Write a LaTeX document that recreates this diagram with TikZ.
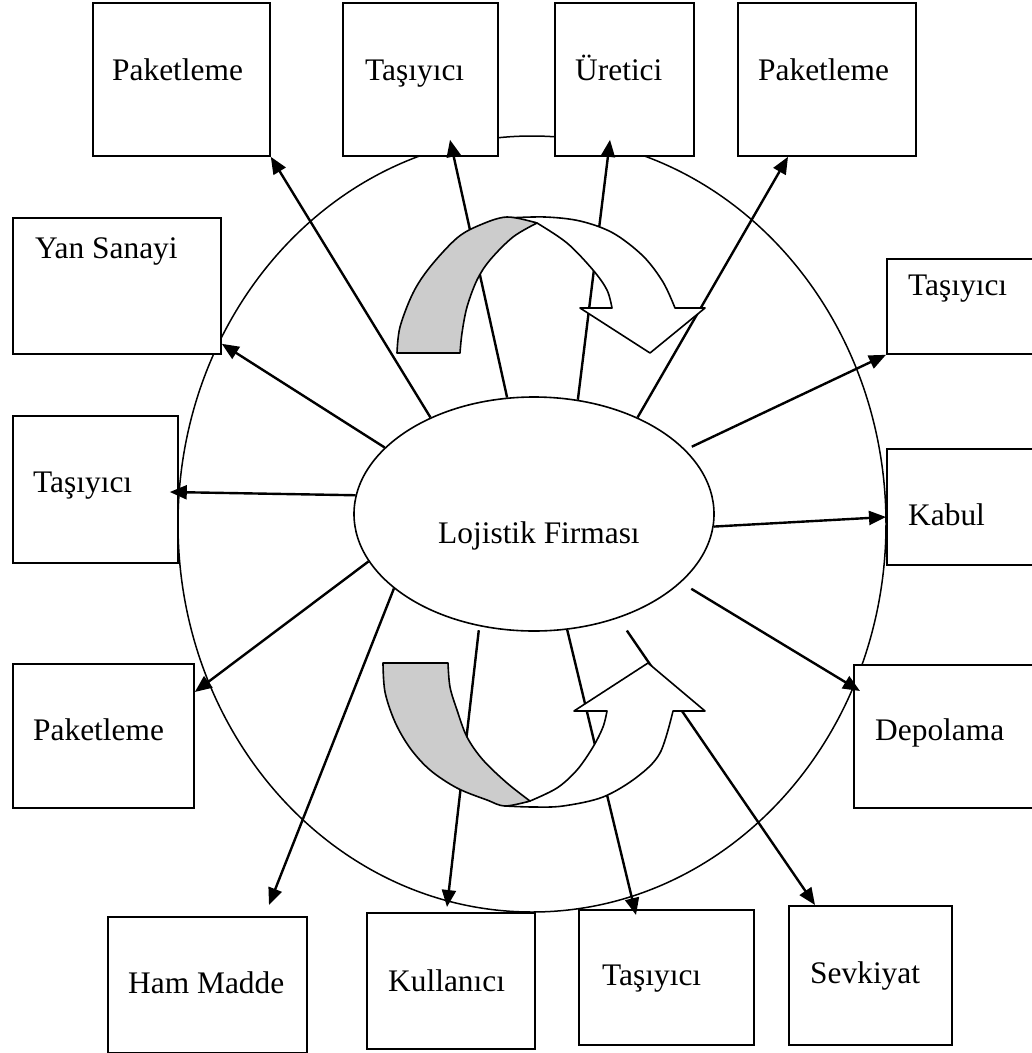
\documentclass[tikz,border=0pt]{standalone}
\usepackage{fontspec}
\setmainfont{Liberation Serif}
\usetikzlibrary{shapes.geometric, arrows.meta, calc}

\begin{document}
\begin{tikzpicture}[x=1pt, y=-1pt,
  box/.style={draw, line width=1.8pt, fill=white, inner sep=0pt, anchor=north west},
  lbl/.style={font=\fontsize{31.4}{36}\selectfont, inner sep=0pt, anchor=base west},
  link/.style={line width=2.4pt, -{Triangle[length=17pt,width=14pt]}},
  ribbon/.style={line width=1.6pt, line join=round},
  back/.style={ribbon, fill=gray!40},
  front/.style={ribbon, fill=white},
]
\useasboundingbox (0,0) rectangle (1032,1053);
\clip (0,0) rectangle (1032,1053);

% outer ring
\node[draw, ellipse, line width=1.5pt, minimum width=708pt, minimum height=776pt, inner sep=0pt] (ring) at (532,524) {};

% boxes
\node[box, minimum width=177pt, minimum height=153pt] (pk1) at (92,2) {};
\node[box, minimum width=155pt, minimum height=153pt] (ta1) at (342,2) {};
\node[box, minimum width=139pt, minimum height=153pt] (ur)  at (554,2) {};
\node[box, minimum width=178pt, minimum height=153pt] (pk2) at (737,2) {};
\node[box, minimum width=208pt, minimum height=136pt] (ys)  at (12,217) {};
\node[box, minimum width=160pt, minimum height=95pt]  (tr)  at (886,258) {};
\node[box, minimum width=165pt, minimum height=147pt] (tl)  at (12,415) {};
\node[box, minimum width=160pt, minimum height=116pt] (kb)  at (886,448) {};
\node[box, minimum width=181pt, minimum height=144pt] (pl)  at (12,663) {};
\node[box, minimum width=190pt, minimum height=143pt] (dp)  at (853,664) {};
\node[box, minimum width=199pt, minimum height=136pt] (hm)  at (107,916) {};
\node[box, minimum width=168pt, minimum height=136pt] (ku)  at (366,912) {};
\node[box, minimum width=175pt, minimum height=135pt] (tb)  at (578,909) {};
\node[box, minimum width=163pt, minimum height=139pt] (sv)  at (788,905) {};

% box texts
\node[lbl] (tpk1) at (112,80) {Paketleme};
\node[lbl] (tta1) at (365,80) {Taşıyıcı};
\node[lbl] (tur)  at (575,80) {Üretici};
\node[lbl] (tpk2) at (758,80) {Paketleme};
\node[lbl] (tys)  at (35,258) {Yan Sanayi};
\node[lbl] (ttr)  at (908,295) {Taşıyıcı};
\node[lbl] (ttl)  at (33,492) {Taşıyıcı};
\node[lbl] (tkb)  at (908,525) {Kabul};
\node[lbl] (tpl)  at (33,740) {Paketleme};
\node[lbl] (tdp)  at (875,740) {Depolama};
\node[lbl] (thm)  at (128,993) {Ham Madde};
\node[lbl] (tku)  at (388,991) {Kullanıcı};
\node[lbl] (ttb)  at (602,985) {Taşıyıcı};
\node[lbl] (tsv)  at (810,983) {Sevkiyat};

% central firm
\node[draw, ellipse, line width=1.6pt, fill=white, minimum width=360pt, minimum height=234pt, inner sep=0pt] (hub) at (534,514) {};
\node[lbl] (thub) at (438,543) {Lojistik Firması};

% spokes
\draw[link] (hub.137) -- (pk1.south east);
\draw[link] (hub.103) -- ($(ta1.south west)+(108,-17)$);
\draw[link] (hub.69)  -- ($(ur.south west)+(56,-17)$);
\draw[link] (hub.43)  -- ($(pk2.south west)+(51,0)$);
\draw[link] (hub.156) -- ($(ys.south east)+(0,-11)$);
\draw[link] (hub.174) -- ($(tl.north east)+(-9,77)$);
\draw[link] (hub.196) -- ($(pl.north east)+(0,29)$);
\draw[link] (hub.208) -- ($(hm.north west)+(162,-11)$);
\draw[link, shorten <=4pt] (hub.244) -- ($(ku.north west)+(81,-5)$);
\draw[link] (hub.286) -- ($(tb.north west)+(58,6)$);
\draw[link, shorten <=15pt] (hub.309) -- ($(sv.north west)+(27,0)$);
\draw[link, shorten <=12pt] (hub.335) -- ($(dp.north west)+(7,27)$);
\draw[link] (hub.356) -- ($(kb.north west)+(0,69)$);
\draw[link, shorten <=7pt] (hub.23) -- (tr.south west);

% upper curved ribbon arrow
\filldraw[front] plot[smooth, tension=0.55] coordinates {(507,218) (545,217) (580,221) (613,233) (643,256) (663,282) (675,308)}
  -- (705,308) -- (650,353) -- (580,308) -- (612,308)
  -- plot[smooth, tension=0.55] coordinates {(612,308) (607,290) (593,270) (567,243) (537,223)} -- cycle;
\filldraw[back] plot[smooth, tension=0.55] coordinates {(397,353) (400,327) (413,293) (430,267) (457,238) (480,225) (507,217) (537,223)}
  -- plot[smooth, tension=0.55] coordinates {(537,223) (513,237) (490,260) (477,280) (467,307) (462,333) (460,353)} -- cycle;

% lower curved ribbon arrow
\filldraw[front] plot[smooth, tension=0.55] coordinates {(505,806) (533,807) (563,806) (603,797) (637,777) (660,753) (673,711)}
  -- (705,711) -- (648,663) -- (574,711) -- (607,711)
  -- plot[smooth, tension=0.55] coordinates {(607,711) (603,727) (593,747) (577,770) (557,788) (530,801)} -- cycle;
\filldraw[back] plot[smooth, tension=0.55] coordinates {(383,663) (385,692) (395,722) (410,748) (430,770) (457,788) (487,800) (505,806) (530,801)}
  -- plot[smooth, tension=0.55] coordinates {(530,801) (507,783) (483,760) (467,737) (457,710) (450,687) (448,663)} -- cycle;
\end{tikzpicture}
\end{document}
